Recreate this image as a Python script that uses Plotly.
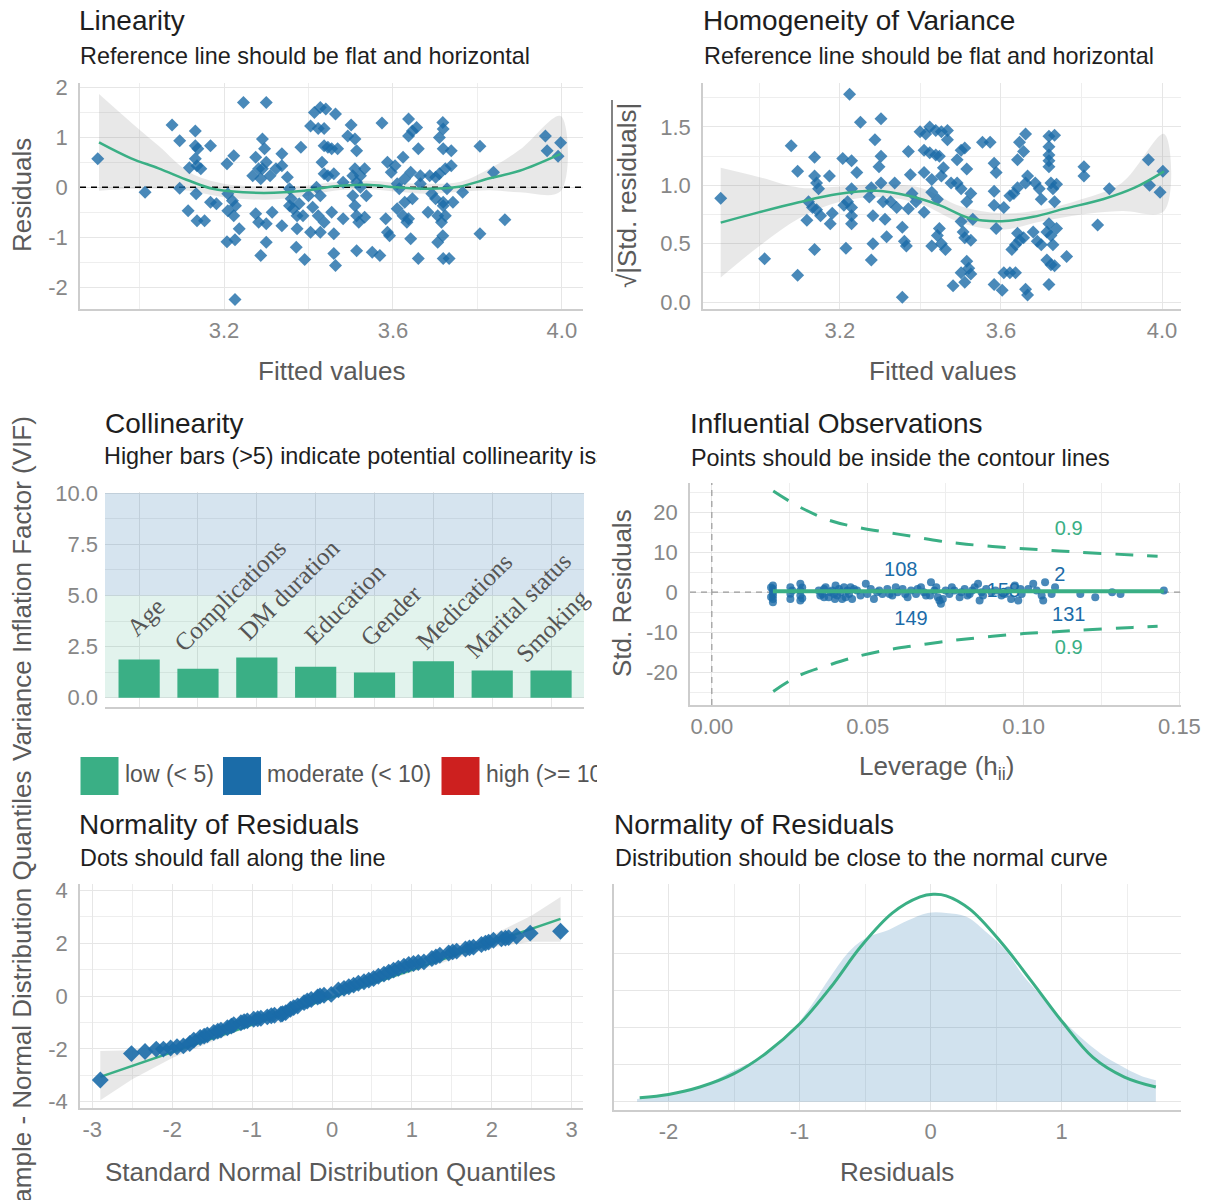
import plotly.graph_objects as go

W, H = 1207, 1200

# ---------------- DATA ----------------
# Linearity: fitted values vs residuals
lin_fitted = [2.901, 3.013, 3.077, 3.095, 3.095, 3.115, 3.118, 3.132, 3.132, 3.138, 3.132, 3.136, 3.145, 3.134,
              3.136, 3.154, 3.168, 3.168, 3.182, 3.207, 3.223, 3.209, 3.220, 3.227, 3.209, 3.223, 3.236, 3.207,
              3.226, 3.226, 3.246, 3.300, 3.275, 3.282, 3.291, 3.296, 3.300, 3.309, 3.287, 3.275, 3.282, 3.300,
              3.314, 3.337, 3.300, 3.287, 3.337, 3.337, 3.350, 3.355, 3.359, 3.364, 3.373, 3.373, 3.371, 3.391,
              3.382, 3.387, 3.405, 3.414, 3.428, 3.441, 3.437, 3.423, 3.464, 3.437, 3.446, 3.455, 3.469, 3.432,
              3.437, 3.446, 3.460, 3.428, 3.410, 3.423, 3.437, 3.428, 3.455, 3.460, 3.460, 3.464, 3.405, 3.482,
              3.493, 3.501, 3.510, 3.514, 3.510, 3.505, 3.514, 3.523, 3.533, 3.505, 3.510, 3.514, 3.519, 3.533,
              3.514, 3.551, 3.569, 3.574, 3.583, 3.587, 3.592, 3.587, 3.596, 3.605, 3.610, 3.615, 3.624, 3.628,
              3.624, 3.633, 3.637, 3.637, 3.637, 3.646, 3.656, 3.642, 3.646, 3.642, 3.660, 3.660, 3.665, 3.687,
              3.692, 3.701, 3.710, 3.706, 3.715, 3.706, 3.710, 3.718, 3.719, 3.719, 3.724, 3.728, 3.719, 3.724,
              3.718, 3.719, 3.733, 3.738, 3.738, 3.742, 3.765, 3.806, 3.806, 3.838, 3.865, 3.961, 3.965, 3.991,
              3.997, 3.268, 3.291, 3.323, 3.355, 3.378, 3.400, 3.419, 3.482, 3.523, 3.537, 3.610, 3.628, 3.665,
              3.683, 3.701, 3.719]
lin_resid = [0.57, -0.10, 1.25, 0.93, -0.02, -0.47, 0.39, 1.13, 0.83, 0.77, 0.57, 0.43, 0.37, -0.13,
             -0.67, -0.67, 0.83, -0.30, -0.33, 0.47, 0.63, -0.13, -0.27, -0.37, -0.47, -0.57, -0.83, -1.09,
             -1.05, -2.25, 1.70, 1.70, 0.60, 0.37, 0.97, 0.77, 0.50, 0.23, 0.17, -0.53, -0.70, -0.73,
             -0.50, -0.77, -1.10, -1.37, 0.67, 0.43, 0.20, -0.03, -0.23, -0.43, -0.57, -0.83, -1.20, -1.45,
             0.80, -0.57, 1.23, 1.50, 1.60, 1.57, 1.18, 1.18, 1.47, 0.83, 0.80, 0.77, 0.77, 0.50,
             0.27, 0.23, 0.27, -0.17, -0.40, -0.57, -0.70, -0.90, -0.50, -0.93, -1.33, -1.57, -0.90, -0.63,
             1.03, 1.25, 0.97, 0.73, 0.37, 0.23, 0.10, 0.00, 0.37, -0.17, -0.37, -0.57, -0.70, -0.60,
             -1.27, -1.30, -1.37, 1.29, -0.63, -0.90, -0.97, 0.50, 0.30, 0.43, 0.07, -0.03, 0.60, 0.17,
             -0.57, -0.70, -0.63, 1.37, 1.03, 1.13, 1.20, 0.30, -0.23, -1.03, 0.77, -1.43, 0.07, 0.23,
             -0.13, -0.23, 0.27, -0.57, -0.70, -1.10, 1.00, 1.30, 1.17, 0.77, 0.37, -0.03, -0.30, -0.57,
             -0.97, -1.43, -1.43, 0.73, 0.43, -0.30, -0.10, 0.82, -0.93, 0.30, -0.65, 1.03, 0.73, 0.62,
             0.89, 0.23, 0.37, 0.37, -0.37, -0.33, -0.17, 0.00, 0.10, 0.23, -0.17, -0.43, -0.30, 0.23,
             -0.50, 0.20, -0.37]
lin_smooth_x = [2.904, 2.98, 3.045, 3.118, 3.173, 3.246, 3.318, 3.39, 3.464, 3.537, 3.61, 3.683, 3.756, 3.829, 3.9, 3.997]
lin_smooth_y = [0.90, 0.58, 0.38, 0.13, -0.03, -0.10, -0.11, -0.07, 0.02, 0.05, 0.00, -0.03, 0.01, 0.18, 0.33, 0.67]
lin_ci_x = [2.904, 2.98, 3.045, 3.118, 3.2, 3.3, 3.39, 3.46, 3.54, 3.61, 3.68, 3.76, 3.83, 3.9, 3.997]
lin_ci_lo = [-0.07, -0.03, -0.03, -0.07, -0.20, -0.25, -0.18, -0.07, -0.04, -0.09, -0.13, -0.09, -0.06, -0.10, -0.08]
lin_ci_hi = [1.87, 1.30, 0.83, 0.30, 0.07, 0.02, 0.03, 0.10, 0.13, 0.09, 0.07, 0.11, 0.38, 0.75, 1.43]

# Homogeneity of variance: fitted values vs sqrt(|std. residuals|)
hom_fitted = [2.904, 3.013, 3.079, 3.095, 3.095, 3.118, 3.137, 3.137, 3.142, 3.147, 3.122, 3.132, 3.142, 3.152,
              3.137, 3.174, 3.181, 3.176, 3.207, 3.229, 3.242, 3.224, 3.251, 3.210, 3.219, 3.215, 3.229, 3.229,
              3.229, 3.229, 3.278, 3.273, 3.282, 3.282, 3.278, 3.287, 3.302, 3.302, 3.297, 3.302, 3.307, 3.312,
              3.316, 3.326, 3.336, 3.341, 3.355, 3.360, 3.365, 3.355, 3.370, 3.375, 3.370, 3.379, 3.389, 3.399,
              3.413, 3.423, 3.438, 3.452, 3.467, 3.467, 3.409, 3.423, 3.438, 3.447, 3.409, 3.428, 3.452, 3.409,
              3.428, 3.442, 3.447, 3.442, 3.452, 3.428, 3.462, 3.457, 3.476, 3.491, 3.501, 3.510, 3.515, 3.491,
              3.501, 3.515, 3.525, 3.530, 3.501, 3.506, 3.510, 3.525, 3.515, 3.520, 3.501, 3.510, 3.481, 3.525,
              3.554, 3.573, 3.583, 3.588, 3.583, 3.583, 3.588, 3.583, 3.603, 3.607, 3.622, 3.636, 3.607, 3.622,
              3.632, 3.641, 3.641, 3.646, 3.661, 3.656, 3.627, 3.636, 3.641, 3.646, 3.656, 3.661, 3.666, 3.661,
              3.666, 3.685, 3.695, 3.700, 3.680, 3.690, 3.700, 3.714, 3.719, 3.733, 3.719, 3.719, 3.719, 3.719,
              3.724, 3.729, 3.738, 3.733, 3.719, 3.724, 3.729, 3.714, 3.724, 3.733, 3.719, 3.738, 3.763, 3.806,
              3.806, 3.840, 3.869, 3.966, 3.969, 3.995, 4.002]
hom_sqrt_resid = [0.89, 0.37, 1.34, 1.12, 0.23, 0.70, 1.24, 1.08, 1.02, 0.97, 0.86, 0.81, 0.79, 0.74,
                  0.45, 1.08, 0.76, 0.67, 1.23, 1.21, 1.11, 1.78, 1.54, 0.83, 0.86, 0.46, 0.97, 0.81,
                  0.74, 0.67, 0.98, 0.90, 0.74, 0.50, 0.36, 1.39, 1.57, 1.25, 1.16, 1.02, 0.86, 0.71,
                  0.56, 0.86, 1.02, 0.81, 0.64, 0.52, 0.48, 0.04, 1.29, 1.09, 0.80, 0.93, 0.86, 1.46,
                  1.44, 1.50, 1.47, 1.46, 1.47, 1.39, 1.30, 1.28, 1.26, 1.25, 1.11, 1.05, 1.08, 0.77,
                  0.94, 0.88, 0.63, 0.57, 0.50, 0.48, 0.45, 1.15, 1.02, 1.22, 1.30, 1.32, 1.14, 1.02,
                  0.97, 0.86, 0.93, 0.71, 0.69, 0.60, 0.55, 0.53, 0.35, 0.29, 0.25, 0.17, 0.14, 0.24,
                  1.37, 1.37, 1.19, 1.11, 0.95, 0.83, 0.63, 0.15, 0.10, 0.25, 0.25, 0.25, 0.81, 0.91,
                  0.93, 0.98, 1.22, 1.37, 1.44, 1.29, 0.45, 0.49, 0.59, 0.53, 0.55, 1.02, 1.08, 0.11,
                  0.06, 1.02, 0.97, 0.88, 0.60, 0.52, 0.49, 0.60, 1.42, 1.43, 1.33, 1.26, 1.21, 1.16,
                  1.02, 0.97, 1.01, 0.86, 0.67, 0.57, 0.49, 0.36, 0.32, 0.31, 0.15, 0.63, 0.39, 1.16,
                  1.08, 0.66, 0.97, 1.22, 1.00, 0.94, 1.12]
hom_smooth_x = [2.904, 3.0, 3.098, 3.195, 3.292, 3.37, 3.447, 3.525, 3.602, 3.68, 3.758, 3.855, 3.932, 4.005]
hom_smooth_y = [0.68, 0.77, 0.855, 0.925, 0.953, 0.91, 0.83, 0.715, 0.692, 0.73, 0.80, 0.883, 0.98, 1.12]
hom_ci_x = [2.904, 3.0, 3.1, 3.2, 3.3, 3.4, 3.5, 3.6, 3.7, 3.8, 3.9, 4.005]
hom_ci_lo = [0.21, 0.48, 0.72, 0.86, 0.90, 0.84, 0.68, 0.62, 0.69, 0.75, 0.78, 0.78]
hom_ci_hi = [1.15, 1.07, 0.98, 0.99, 1.01, 0.98, 0.82, 0.76, 0.79, 0.88, 1.02, 1.44]

# Collinearity (VIF)
vif_terms = ["Age", "Complications", "DM duration", "Education", "Gender",
             "Medications", "Marital status", "Smoking"]
vif_values = [1.87, 1.42, 1.97, 1.52, 1.23, 1.78, 1.33, 1.33]
vif_zone_low = [0, 5]
vif_zone_moderate = [5, 10]
vif_legend_labels = ["low (< 5)", "moderate (< 10)", "high (>= 10)"]

# Influential observations: leverage vs std. residuals
inf_leverage = [0.0196, 0.0196, 0.0196, 0.0196, 0.0196, 0.0196, 0.0190, 0.0190,
                0.0252, 0.0252, 0.0252, 0.0258, 0.0284, 0.0284, 0.0284, 0.0284, 0.0290, 0.0290,
                0.0343, 0.0354, 0.0365, 0.0375, 0.0386, 0.0397, 0.0402, 0.0413, 0.0424, 0.0429,
                0.0440, 0.0450, 0.0456, 0.0466, 0.0477, 0.0494, 0.0499, 0.0510, 0.0520,
                0.0537, 0.0547, 0.0563, 0.0579, 0.0596, 0.0612, 0.0628, 0.0639,
                0.0655, 0.0671, 0.0687, 0.0703, 0.0714, 0.0725, 0.0735, 0.0741,
                0.0762, 0.0778, 0.0795, 0.0811, 0.0827, 0.0843, 0.0854, 0.0859, 0.0865,
                0.0897, 0.0929, 0.0951, 0.0972, 0.0983, 0.0994, 0.1015,
                0.1031, 0.1042, 0.1058, 0.1063, 0.1069, 0.1090, 0.1101,
                0.1182, 0.1230, 0.1284, 0.1311, 0.1450,
                0.0348, 0.0360, 0.0380, 0.0392, 0.0408, 0.0418, 0.0435, 0.0445, 0.0360, 0.0395,
                0.0530, 0.0570, 0.0590, 0.0620, 0.0660, 0.0680, 0.0700, 0.0720, 0.0730, 0.0750,
                0.0770, 0.0800, 0.0820, 0.0835, 0.0870, 0.0880, 0.0910, 0.0940, 0.0960, 0.0990]
inf_std_resid = [1.7, 0.8, 0.0, -0.8, -1.7, -2.5, 1.2, -1.2,
                 1.25, -0.4, -1.7, 0.4, 2.1, 0.4, -0.8, -2.1, 1.2, -1.5,
                 0.42, -0.42, 1.25, -1.25, 0.42, 1.7, -0.83, 0.0, 1.25, -1.25,
                 -0.42, -1.67, 0.83, 0.42, -0.83, 2.1, -0.42, 0.83, -1.67,
                 0.42, -0.42, 0.83, -0.83, 0.0, 0.83, -1.25, 0.42,
                 -0.42, 1.25, -0.83, 2.5, 0.42, -1.25, -2.9, -1.67,
                 -0.42, 0.42, -1.25, 0.83, -0.42, 1.25, 2.1, -2.1, 0.0,
                 0.0, -0.83, 0.42, 1.7, -2.1, -0.42, 0.83,
                 2.1, 0.42, -0.83, -2.1, 2.5, -0.42, 1.25,
                 -0.42, -1.25, 0.0, -0.42, 0.42,
                 -0.83, 0.83, 0.0, -0.42, 0.83, -1.67, 0.42, 1.25, -1.25, -1.7,
                 0.0, -0.42, 1.25, -0.42, 0.83, 0.0, -0.83, 1.25, -2.1, 0.42,
                 1.25, 0.0, -0.83, 0.42, -0.83, 0.83, 0.42, -0.42, -1.7, 0.83]
inf_smooth_x = [0.0196, 0.1450]
inf_smooth_y = [0.25, 0.25]
cook_leverage = [0.0197, 0.0284, 0.0384, 0.047, 0.0558, 0.064, 0.073, 0.0816, 0.0977, 0.108, 0.118, 0.135, 0.143]
cook_upper = [25.3, 21.2, 17.8, 16.2, 15.0, 14.0, 12.8, 12.0, 11.0, 10.5, 10.0, 9.3, 9.0]
cook_lower = [-24.8, -20.7, -18.0, -16.0, -14.5, -13.5, -12.5, -11.7, -10.5, -10.0, -9.5, -8.8, -8.5]
cook_label_text = ["0.9", "0.9"]
cook_label_lev = [0.1145, 0.1145]
cook_label_res = [15.5, -14.3]
inf_label_text = ["108", "2", "149", "131", "158"]
inf_label_lev = [0.0606, 0.1116, 0.0639, 0.1145, 0.0935]
inf_label_res = [5.2, 4.0, -7.0, -6.0, 0.0]

# Normality: QQ plot
qq_theoretical = [-2.90, -2.51, -2.34, -2.20, -2.11, -2.02, -1.94, -1.86, -1.78, -1.73, -1.65, -1.60,
                  -1.56, -1.48, -1.43, -1.39, -1.31, -1.26, -1.23, -1.14, -1.10, -1.06, -0.98, -0.93,
                  -0.89, -0.81, -0.76, -0.72, -0.64, -0.62, -0.58, -0.52, -0.48, -0.43, -0.35, -0.31,
                  -0.26, -0.18, -0.15, -0.10, -0.01, 0.08, 0.15, 0.21, 0.27, 0.33, 0.40, 0.46, 0.52,
                  0.58, 0.65, 0.71, 0.77, 0.83, 0.90, 0.96, 1.02, 1.08, 1.15, 1.25, 1.30, 1.35, 1.46,
                  1.51, 1.56, 1.67, 1.72, 1.77, 1.87, 1.92, 1.96, 2.02, 2.12, 2.17, 2.21, 2.31, 2.48, 2.86]
qq_sample = [-3.18, -2.18, -2.10, -2.01, -2.01, -1.97, -1.92, -1.89, -1.80, -1.67, -1.57, -1.52,
             -1.47, -1.38, -1.33, -1.29, -1.20, -1.14, -1.09, -1.01, -0.97, -0.94, -0.88, -0.86,
             -0.84, -0.79, -0.75, -0.73, -0.69, -0.67, -0.63, -0.50, -0.44, -0.38, -0.25, -0.19,
             -0.13, -0.04, 0.00, 0.03, 0.06, 0.23, 0.29, 0.35, 0.41, 0.48, 0.54, 0.60, 0.66,
             0.75, 0.83, 0.90, 0.98, 1.05, 1.13, 1.19, 1.23, 1.27, 1.29, 1.42, 1.48, 1.54, 1.63,
             1.67, 1.70, 1.78, 1.82, 1.85, 1.95, 2.00, 2.04, 2.11, 2.17, 2.19, 2.21, 2.26, 2.38, 2.45]
qq_line_x = [-2.90, 2.86]
qq_line_y = [-3.06, 2.92]
qq_ci_x = [-2.90, -2.5, -2.0, -1.5, -1.0, -0.5, 0.0, 0.5, 1.0, 1.5, 2.0, 2.5, 2.86]
qq_ci_lo = [-3.95, -3.15, -2.35, -1.72, -1.13, -0.58, -0.06, 0.43, 0.92, 1.38, 1.85, 2.05, 2.05]
qq_ci_hi = [-2.08, -2.05, -1.75, -1.33, -0.88, -0.40, 0.10, 0.61, 1.15, 1.75, 2.30, 3.05, 3.75]

# Normality: density of residuals vs normal curve
dens_x = [-2.24, -2.0, -1.76, -1.62, -1.5, -1.35, -1.2, -1.06, -0.91, -0.76, -0.61, -0.47, -0.32, -0.17,
          -0.02, 0.12, 0.27, 0.42, 0.57, 0.71, 0.86, 1.01, 1.16, 1.3, 1.45, 1.6, 1.72]
dens_y = [0.008, 0.022, 0.040, 0.063, 0.085, 0.110, 0.143, 0.190, 0.260, 0.340, 0.410, 0.446, 0.464, 0.490,
          0.510, 0.510, 0.500, 0.460, 0.410, 0.340, 0.280, 0.220, 0.170, 0.130, 0.098, 0.071, 0.058]
norm_x = [-2.22, -2.0, -1.76, -1.5, -1.26, -1.0, -0.76, -0.53, -0.29, -0.08, 0.02, 0.12, 0.3, 0.54,
          0.77, 1.01, 1.24, 1.48, 1.72]
norm_y = [0.011, 0.020, 0.040, 0.076, 0.130, 0.210, 0.310, 0.420, 0.510, 0.553, 0.560, 0.556, 0.520, 0.430,
          0.326, 0.214, 0.120, 0.067, 0.040]

# Tick values / labels
fit_ticks = [3.2, 3.6, 4.0]
fit_ticktext = ["3.2", "3.6", "4.0"]
lin_yticks = [-2, -1, 0, 1, 2]
lin_yticktext = ["-2", "-1", "0", "1", "2"]
hom_yticks = [0, 0.5, 1.0, 1.5]
hom_yticktext = ["0.0", "0.5", "1.0", "1.5"]
vif_yticks = [0, 2.5, 5, 7.5, 10]
vif_yticktext = ["0.0", "2.5", "5.0", "7.5", "10.0"]
inf_xticks = [0, 0.05, 0.10, 0.15]
inf_xticktext = ["0.00", "0.05", "0.10", "0.15"]
inf_yticks = [-20, -10, 0, 10, 20]
inf_yticktext = ["-20", "-10", "0", "10", "20"]
qq_xticks = [-3, -2, -1, 0, 1, 2, 3]
qq_xticktext = ["-3", "-2", "-1", "0", "1", "2", "3"]
qq_yticks = [-4, -2, 0, 2, 4]
qq_yticktext = ["-4", "-2", "0", "2", "4"]
dens_xticks = [-2, -1, 0, 1]
dens_xticktext = ["-2", "-1", "0", "1"]
dens_yticks = [0, 0.1, 0.2, 0.3, 0.4, 0.5]

# ---------------- STYLE ----------------
GREEN = "#3aaf85"
BLUE = "#1b6ca8"
RED = "#cd201f"
FONT = "Liberation Sans, Arial, sans-serif"
SERIF = "Liberation Serif, Times New Roman, serif"
TICK_COLOR = "#878787"
AXTITLE_COLOR = "#5a5a5a"
TITLE_COLOR = "#1e1e1e"
GRID = "#e6e6e6"
MINOR_GRID = "#eeeeee"
AXLINE = "#cdcdcd"
RIBBON = "rgba(128,128,128,0.18)"
SUB_SIZE = 23.4

R1X, R1Y = [2.859, 4.05], [-2.44, 2.09]
R2X, R2Y = [2.860, 4.047], [-0.06, 1.877]
R3X, R3Y = [-0.58, 7.56], [-0.45, 10.05]
R4X, R4Y = [-0.007, 0.1505], [-28.2, 27.3]
R5X, R5Y = [-3.154, 3.141], [-4.24, 4.24]
R6X, R6Y = [-2.416, 1.912], [-0.022, 0.588]

# label placement for the rotated VIF term labels (data-y of box bottom, pixel shift of box left)
vif_label_y = [2.62, 1.88, 2.43, 2.23, 2.13, 1.98, 1.53, 1.34]
vif_label_xshift = [-20, -32, -26, -19, -22, -26, -35, -43]


def px_x(px):
    return px / W


def px_y(py):
    return 1 - py / H


fig = go.Figure()


def axis_style(domain, rng, tickvals=None, ticktext=None, minor=None, showline=True, labels=True, is_x=True):
    d = dict(domain=domain, range=rng, showgrid=True, gridcolor=GRID, gridwidth=1.3,
             zeroline=False, showline=showline, linecolor=AXLINE, linewidth=1.5, automargin=False,
             ticks="", ticklabelstandoff=(1 if is_x else 6), fixedrange=True,
             tickfont=dict(family=FONT, size=22, color=TICK_COLOR))
    if tickvals is not None:
        d.update(tickmode="array", tickvals=tickvals)
        if ticktext is not None:
            d.update(ticktext=ticktext)
    if minor is not None:
        d.update(minor=dict(tickmode="linear", tick0=minor[0], dtick=minor[1], showgrid=True,
                            gridcolor=MINOR_GRID, gridwidth=1.0, ticks=""))
    if not labels:
        d.update(showticklabels=False)
    return d


def ribbon(x, lo, hi, xa, ya, shape="spline"):
    return go.Scatter(x=list(x) + list(x)[::-1], y=list(hi) + list(lo)[::-1], fill="toself",
                      fillcolor=RIBBON, line=dict(width=0, shape=shape), mode="lines",
                      hoverinfo="skip", showlegend=False, xaxis=xa, yaxis=ya)


# ---- Panel 1: Linearity ----
fig.add_trace(ribbon(lin_ci_x, lin_ci_lo, lin_ci_hi, "x", "y"))
fig.add_trace(go.Scatter(x=R1X, y=[0, 0], mode="lines",
                         line=dict(color="black", width=1.5, dash="6px,5px"),
                         showlegend=False, xaxis="x", yaxis="y"))
fig.add_trace(go.Scatter(x=lin_fitted, y=lin_resid, mode="markers",
                         marker=dict(symbol="diamond", size=10, color=BLUE, opacity=0.8),
                         showlegend=False, xaxis="x", yaxis="y"))
fig.add_trace(go.Scatter(x=lin_smooth_x, y=lin_smooth_y, mode="lines",
                         line=dict(color=GREEN, width=2.5, shape="spline"),
                         showlegend=False, xaxis="x", yaxis="y"))

# ---- Panel 2: Homogeneity ----
fig.add_trace(ribbon(hom_ci_x, hom_ci_lo, hom_ci_hi, "x2", "y2"))
fig.add_trace(go.Scatter(x=hom_fitted, y=hom_sqrt_resid, mode="markers",
                         marker=dict(symbol="diamond", size=10, color=BLUE, opacity=0.8),
                         showlegend=False, xaxis="x2", yaxis="y2"))
fig.add_trace(go.Scatter(x=hom_smooth_x, y=hom_smooth_y, mode="lines",
                         line=dict(color=GREEN, width=2.5, shape="spline"),
                         showlegend=False, xaxis="x2", yaxis="y2"))

# ---- Panel 3: Collinearity ----
vif_pos = list(range(len(vif_terms)))
fig.add_trace(go.Scatter(x=[R3X[0], R3X[1], R3X[1], R3X[0]],
                         y=[vif_zone_low[0], vif_zone_low[0], vif_zone_low[1], vif_zone_low[1]],
                         fill="toself", fillcolor="rgba(58,175,133,0.15)", mode="lines", line=dict(width=0),
                         hoverinfo="skip", showlegend=False, xaxis="x3", yaxis="y3"))
fig.add_trace(go.Scatter(x=[R3X[0], R3X[1], R3X[1], R3X[0]],
                         y=[vif_zone_moderate[0], vif_zone_moderate[0], vif_zone_moderate[1], vif_zone_moderate[1]],
                         fill="toself", fillcolor="rgba(27,108,168,0.18)", mode="lines", line=dict(width=0),
                         hoverinfo="skip", showlegend=False, xaxis="x3", yaxis="y3"))
fig.add_trace(go.Bar(x=vif_pos, y=vif_values, width=0.7, marker=dict(color=GREEN, line=dict(width=0)),
                     showlegend=False, xaxis="x3", yaxis="y3"))

# ---- Panel 3 legend (own clipped axes) ----
fig.add_trace(go.Scatter(x=[99.5, 242, 460.5], y=[0.5, 0.5, 0.5], mode="markers",
                         marker=dict(symbol="square", size=38, color=[GREEN, BLUE, RED]),
                         showlegend=False, xaxis="x7", yaxis="y7", cliponaxis=True))
fig.add_trace(go.Scatter(x=[125, 267, 486], y=[0.5, 0.5, 0.5], mode="text", text=vif_legend_labels,
                         textposition="middle right",
                         textfont=dict(family=FONT, size=23, color="#555555"),
                         showlegend=False, xaxis="x7", yaxis="y7", cliponaxis=True))
# collinearity subtitle, clipped at the left column edge
fig.add_trace(go.Scatter(x=[104], y=[0.5], mode="text",
                         text=["Higher bars (>5) indicate potential collinearity issues"],
                         textposition="middle right",
                         textfont=dict(family=FONT, size=SUB_SIZE, color=TITLE_COLOR),
                         showlegend=False, xaxis="x8", yaxis="y8", cliponaxis=True))

# ---- Panel 4: Influential observations ----
fig.add_trace(go.Scatter(x=[0, 0], y=R4Y, mode="lines",
                         line=dict(color="#9a9a9a", width=1.2, dash="6px,5px"),
                         showlegend=False, xaxis="x4", yaxis="y4"))
fig.add_trace(go.Scatter(x=R4X, y=[0, 0], mode="lines",
                         line=dict(color="#9a9a9a", width=1.2, dash="6px,5px"),
                         showlegend=False, xaxis="x4", yaxis="y4"))
fig.add_trace(go.Scatter(x=cook_leverage, y=cook_upper, mode="lines",
                         line=dict(color=GREEN, width=3, dash="18px,14px", shape="spline"),
                         showlegend=False, xaxis="x4", yaxis="y4"))
fig.add_trace(go.Scatter(x=cook_leverage, y=cook_lower, mode="lines",
                         line=dict(color=GREEN, width=3, dash="18px,14px", shape="spline"),
                         showlegend=False, xaxis="x4", yaxis="y4"))
fig.add_trace(go.Scatter(x=cook_label_lev, y=cook_label_res, mode="text", text=cook_label_text,
                         textfont=dict(family=FONT, size=20, color=GREEN),
                         showlegend=False, xaxis="x4", yaxis="y4"))
fig.add_trace(go.Scatter(x=inf_label_lev, y=inf_label_res, mode="text", text=inf_label_text,
                         textfont=dict(family=FONT, size=20, color=BLUE),
                         showlegend=False, xaxis="x4", yaxis="y4"))
fig.add_trace(go.Scatter(x=inf_leverage, y=inf_std_resid, mode="markers",
                         marker=dict(symbol="circle", size=8, color=BLUE, opacity=0.8),
                         showlegend=False, xaxis="x4", yaxis="y4"))
fig.add_trace(go.Scatter(x=inf_smooth_x, y=inf_smooth_y, mode="lines",
                         line=dict(color=GREEN, width=4),
                         showlegend=False, xaxis="x4", yaxis="y4"))

# ---- Panel 5: QQ ----
fig.add_trace(ribbon(qq_ci_x, qq_ci_lo, qq_ci_hi, "x5", "y5", shape="linear"))
fig.add_trace(go.Scatter(x=qq_line_x, y=qq_line_y, mode="lines", line=dict(color=GREEN, width=2.5),
                         showlegend=False, xaxis="x5", yaxis="y5"))
fig.add_trace(go.Scatter(x=qq_theoretical, y=qq_sample, mode="markers",
                         marker=dict(symbol="diamond", size=13, color=BLUE, opacity=0.9),
                         showlegend=False, xaxis="x5", yaxis="y5"))

# ---- Panel 6: density ----
fig.add_trace(go.Scatter(x=dens_x, y=dens_y, mode="lines", fill="tozeroy",
                         fillcolor="rgba(27,108,168,0.2)", line=dict(width=0, shape="spline"),
                         showlegend=False, xaxis="x6", yaxis="y6"))
fig.add_trace(go.Scatter(x=norm_x, y=norm_y, mode="lines", line=dict(color=GREEN, width=3, shape="spline"),
                         showlegend=False, xaxis="x6", yaxis="y6"))

# ---------------- LAYOUT ----------------
P1 = dict(x=[px_x(80), px_x(583)], y=[px_y(309), px_y(83)])
P2 = dict(x=[px_x(703), px_x(1181)], y=[px_y(309), px_y(83)])
P3 = dict(x=[px_x(105), px_x(584)], y=[px_y(707), px_y(492)])
P4 = dict(x=[px_x(690), px_x(1181)], y=[px_y(705), px_y(483)])
P5 = dict(x=[px_x(80), px_x(583)], y=[px_y(1108), px_y(884)])
P6 = dict(x=[px_x(614), px_x(1181)], y=[px_y(1110), px_y(884)])

layout = dict(
    width=W, height=H, autosize=False,
    margin=dict(l=0, r=0, t=0, b=0, pad=0, autoexpand=False),
    paper_bgcolor="white", plot_bgcolor="rgba(0,0,0,0)", showlegend=False,
    font=dict(family=FONT),
    xaxis=axis_style(P1["x"], R1X, fit_ticks, fit_ticktext, minor=(3.0, 0.2)),
    yaxis=axis_style(P1["y"], R1Y, lin_yticks, lin_yticktext, minor=(-2.5, 0.5), is_x=False),
    xaxis2=axis_style(P2["x"], R2X, fit_ticks, fit_ticktext, minor=(3.0, 0.2)),
    yaxis2=axis_style(P2["y"], R2Y, hom_yticks, hom_yticktext, minor=(0.25, 0.25), is_x=False),
    xaxis3=axis_style(P3["x"], R3X, vif_pos, labels=False),
    yaxis3=axis_style(P3["y"], R3Y, vif_yticks, vif_yticktext, minor=(1.25, 1.25), showline=False, is_x=False),
    xaxis4=axis_style(P4["x"], R4X, inf_xticks, inf_xticktext, minor=(0.025, 0.025)),
    yaxis4=axis_style(P4["y"], R4Y, inf_yticks, inf_yticktext, minor=(-25, 5), is_x=False),
    xaxis5=axis_style(P5["x"], R5X, qq_xticks, qq_xticktext, minor=(-3.5, 0.5)),
    yaxis5=axis_style(P5["y"], R5Y, qq_yticks, qq_yticktext, minor=(-5, 1), is_x=False),
    xaxis6=axis_style(P6["x"], R6X, dens_xticks, dens_xticktext, minor=(-2.5, 0.5)),
    yaxis6=axis_style(P6["y"], R6Y, dens_yticks, labels=False, is_x=False),
    xaxis7=dict(domain=[px_x(80), px_x(597)], range=[80, 597], visible=False, fixedrange=True, automargin=False),
    yaxis7=dict(domain=[px_y(800), px_y(752)], range=[0, 1], visible=False, fixedrange=True, automargin=False),
    xaxis8=dict(domain=[px_x(100), px_x(597)], range=[100, 597], visible=False, fixedrange=True, automargin=False),
    yaxis8=dict(domain=[px_y(474), px_y(442)], range=[0, 1], visible=False, fixedrange=True, automargin=False),
)
layout["xaxis"]["anchor"] = "y"
layout["yaxis"]["anchor"] = "x"
for i in range(2, 9):
    layout[f"xaxis{i}"]["anchor"] = f"y{i}"
    layout[f"yaxis{i}"]["anchor"] = f"x{i}"
fig.update_layout(**layout)

# VIF category labels (rotated, serif)
for i, t in enumerate(vif_terms):
    fig.add_annotation(x=vif_pos[i], y=vif_label_y[i], xref="x3", yref="y3", text=t, showarrow=False,
                       textangle=-45, xanchor="left", yanchor="bottom", xshift=vif_label_xshift[i],
                       font=dict(family=SERIF, size=25, color="#555555"))


def ann(text, xp, yp, size, color, xanchor="left", angle=0):
    fig.add_annotation(x=px_x(xp), y=px_y(yp), xref="paper", yref="paper", text=text, showarrow=False,
                       xanchor=xanchor, yanchor="middle", textangle=angle,
                       font=dict(family=FONT, size=size, color=color))


titles = [("Linearity", 79, 21), ("Homogeneity of Variance", 703, 21), ("Collinearity", 105, 423),
          ("Influential Observations", 690, 423), ("Normality of Residuals", 79, 824),
          ("Normality of Residuals", 614, 824)]
for t, xp, yp in titles:
    ann(t, xp - 2, yp, 28, TITLE_COLOR)
subtitles = [("Reference line should be flat and horizontal", 79, 56),
             ("Reference line should be flat and horizontal", 703, 56),
             ("Points should be inside the contour lines", 690, 458),
             ("Dots should fall along the line", 79, 858),
             ("Distribution should be close to the normal curve", 614, 858)]
for t, xp, yp in subtitles:
    ann(t, xp - 1, yp, SUB_SIZE, TITLE_COLOR)

xtitles = [("Fitted values", 331, 371), ("Fitted values", 942, 371), ("Leverage (h<sub>ii</sub>)", 937, 767),
           ("Standard Normal Distribution Quantiles", 330, 1172), ("Residuals", 897, 1172)]
for t, xp, yp in xtitles:
    ann(t, xp, yp, 26, AXTITLE_COLOR, xanchor="center")
ytitles = [("Residuals", 22, 195), ("√|Std. residuals|", 627, 196),
           ("Variance Inflation Factor (VIF)", 22, 589), ("Std. Residuals", 622, 593),
           ("Sample - Normal Distribution Quantiles", 22, 996)]
for t, xp, yp in ytitles:
    ann(t, xp, yp, 26, AXTITLE_COLOR, xanchor="center", angle=-90)

# overbar of the square-root sign
fig.add_shape(type="line", xref="paper", yref="paper", x0=px_x(612), x1=px_x(612), y0=px_y(100),
              y1=px_y(272), line=dict(color=AXTITLE_COLOR, width=1.5), layer="above")

fig.write_html("out.html")
